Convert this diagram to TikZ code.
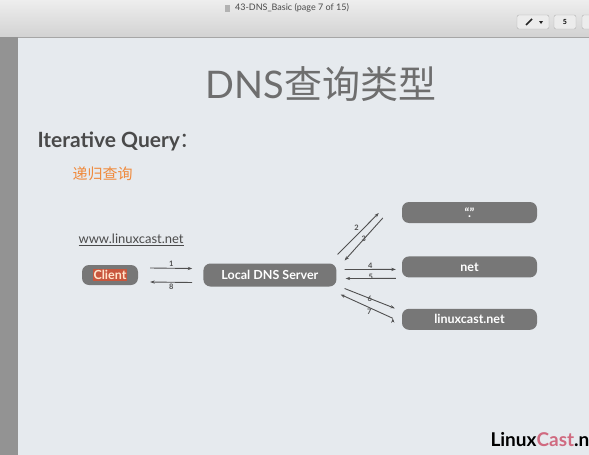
\documentclass[tikz,border=0pt]{standalone}
\usepackage{fontspec}
\setmainfont{Lato}
\newfontfamily\cjk{Noto Sans CJK SC}
\usetikzlibrary{positioning, calc, arrows.meta}

\definecolor{slidebg}{HTML}{E6EAEE}
\definecolor{barTop}{HTML}{EEEEEE}
\definecolor{barBot}{HTML}{D2D2D2}
\definecolor{srvgray}{HTML}{777777}
\definecolor{arrowgray}{HTML}{505050}
\definecolor{titlegray}{HTML}{4A4A4A}
\definecolor{qorange}{HTML}{F08A3C}
\definecolor{clientred}{HTML}{C9573D}
\definecolor{castpink}{HTML}{D06A80}

\begin{document}
\begin{tikzpicture}[x=1pt, y=-1pt, >={Stealth[length=4.5pt,width=3.2pt]}, node distance=30pt,
	srv/.style={rectangle, rounded corners=7pt, fill=srvgray, text=white, inner sep=0pt,
		font=\bfseries\fontsize{12.5}{14}\selectfont},
	far/.style={srv, minimum width=135pt, minimum height=21pt},
	lbl/.style={font=\bfseries\fontsize{7.5}{8}\selectfont, text=arrowgray, inner sep=1pt},
	msg/.style={->, draw=arrowgray, line width=0.9pt}]
	\clip (0,0) rectangle (589,455);
	% viewer window
	\shade[top color=barTop, bottom color=barBot] (0,0) rectangle (589,37);
	\draw[gray!70] (0,37) -- (589,37);
	\fill[gray!85] (0,37) rectangle (18,455);
	\fill[slidebg] (18,38) rectangle (589,455);
	\node[font=\fontsize{9}{10}\selectfont, text=titlegray] (doc) at (292,8) {43-DNS\_Basic (page 7 of 15)};
	\fill[gray!60] ($(doc.west)+(-7,-3.5)$) rectangle ($(doc.west)+(-2,3.5)$);
	\draw[rounded corners=2pt, fill=gray!15, draw=gray!60] (517,15) rectangle (549,29);
	\draw[rounded corners=2pt, fill=gray!15, draw=gray!60] (554,15) rectangle (576,29);
	\draw[rounded corners=2pt, fill=gray!15, draw=gray!60] (582,15) rectangle (595,29);
	\draw[line width=1.6pt, gray!30!black] (526,25) -- (532,19);
	\fill[gray!30!black] (539,21) -- (543,21) -- (541,24) -- cycle;
	\node[font=\bfseries\fontsize{7}{7}\selectfont] at (565,22) {5};

	% slide texts
	\node[text=titlegray!80, font=\fontsize{38}{40}\selectfont] (title) at (321,84) {DNS\cjk 查询类型};
	\node[anchor=west, text=titlegray, font=\bfseries\fontsize{21}{22}\selectfont] (iq) at (34,141) {Iterative Query\cjk\mdseries ：};
	\node[anchor=west, text=qorange, font=\cjk\fontsize{15}{16}\selectfont] (rq) at (69,174) {递归查询};
	\node[anchor=west, text=titlegray, font=\fontsize{13}{14}\selectfont] (url) at (75,240) {\underline{www.linuxcast.net}};
	\node[anchor=west, font=\bfseries\fontsize{19}{20}\selectfont] (logo) at (487,440) {Linux\textcolor{castpink}{Cast}.n};

	% servers
	\node[srv, minimum width=56pt, minimum height=20pt] (client) at (110,275)
		{\setlength{\fboxsep}{1pt}\colorbox{clientred}{\textcolor{orange!20}{Client}}};
	\node[srv, minimum width=133pt, minimum height=23pt] (local) [right=65pt of client] {Local DNS Server};
	\node[far] (root) at (469.5,212.5) {``.''};
	\node[far] (net) [below=33pt of root] {net};
	\node[far] (lcnet) [below=31pt of net] {linuxcast.net};

	\path[msg]
	($(client.east)+(12,-7)$) edge node[lbl, above] {1} ($(local.west)+(-11,-6.5)$)
	($(local.west)+(-11,7.5)$) edge node[lbl, below] {8} ($(client.east)+(12,7)$)
	($(local.east)+(1,-20.5)$) edge node[lbl, above left, pos=0.55] {2} ($(root.west)+(-23,0.5)$)
	($(root.west)+(-19,5.5)$) edge node[lbl] {3} ($(local.east)+(8,-14.5)$)
	($(local.east)+(8,-5.5)$) edge node[lbl, above] {4} ($(net.west)+(-6,2.5)$)
	($(net.west)+(-6,11.5)$) edge node[lbl, yshift=2pt] {5} ($(local.east)+(9,3.5)$)
	($(local.east)+(8,13.5)$) edge node[lbl] {6} ($(lcnet.west)+(-7,-11)$)
	($(lcnet.west)+(-9,-1)$) edge node[lbl, below, pos=0.45] {7} ($(local.east)+(4,19.5)$);
\end{tikzpicture}
\end{document}
